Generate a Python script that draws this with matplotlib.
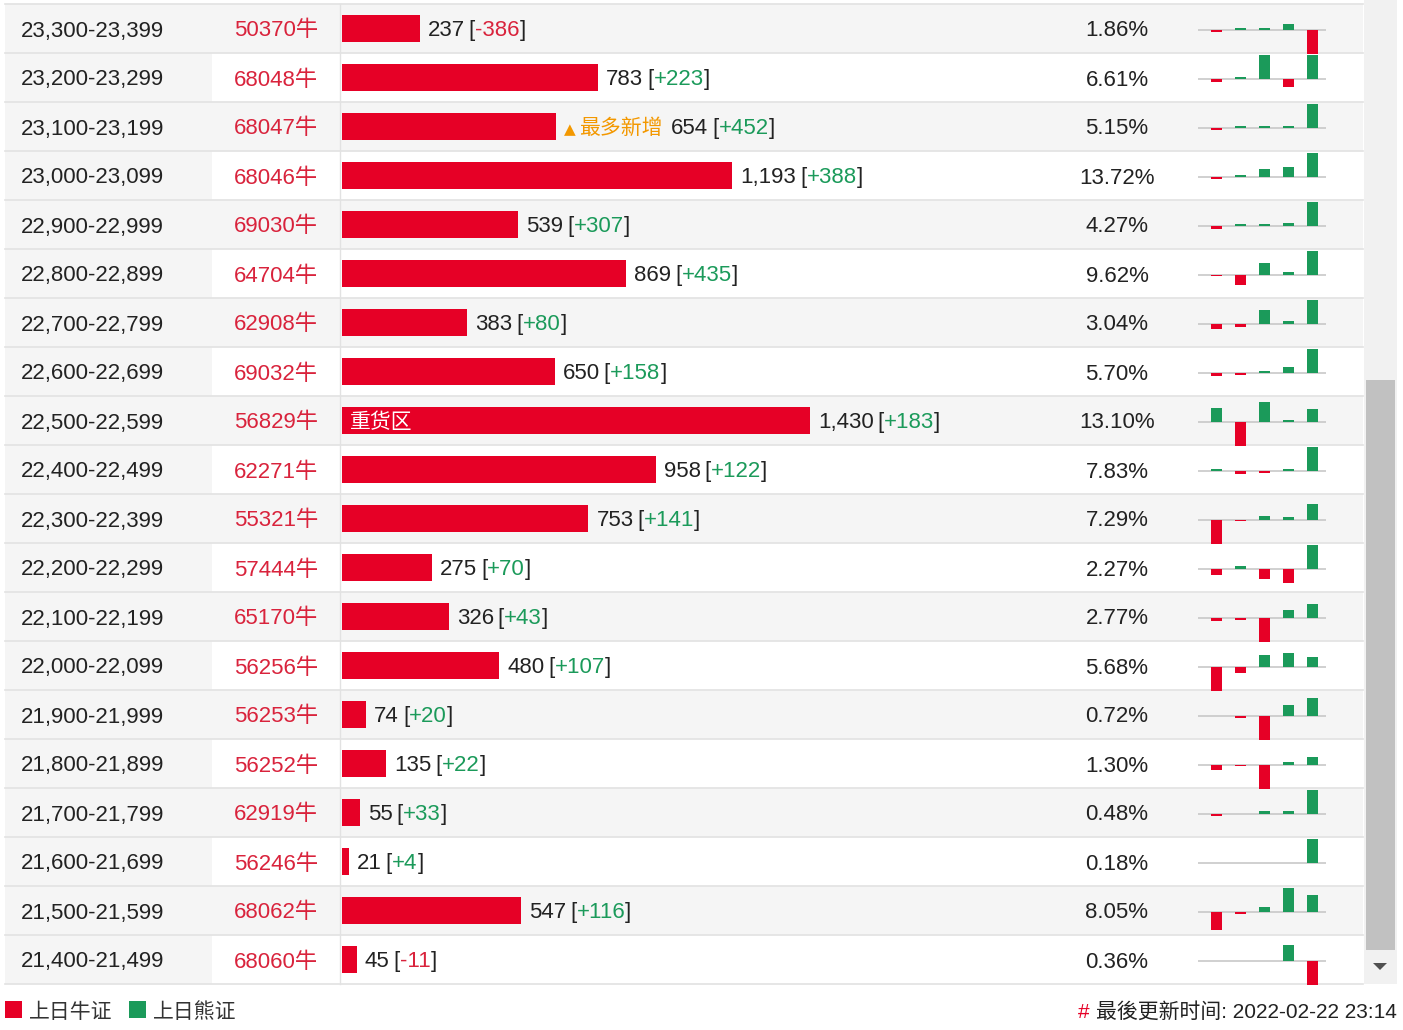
import matplotlib
matplotlib.use("Agg")
import matplotlib.pyplot as plt
from matplotlib.patches import Rectangle, Polygon

plt.rcParams['font.family'] = ['Liberation Sans', 'Noto Sans CJK SC', 'DejaVu Sans']

# ---- data ----
ranges = ["23,300-23,399", "23,200-23,299", "23,100-23,199", "23,000-23,099",
          "22,900-22,999", "22,800-22,899", "22,700-22,799", "22,600-22,699",
          "22,500-22,599", "22,400-22,499", "22,300-22,399", "22,200-22,299",
          "22,100-22,199", "22,000-22,099", "21,900-21,999", "21,800-21,899",
          "21,700-21,799", "21,600-21,699", "21,500-21,599", "21,400-21,499"]
codes = ["50370", "68048", "68047", "68046", "69030", "64704", "62908", "69032",
         "56829", "62271", "55321", "57444", "65170", "56256", "56253", "56252",
         "62919", "56246", "68062", "68060"]
counts = [237, 783, 654, 1193, 539, 869, 383, 650, 1430, 958,
          753, 275, 326, 480, 74, 135, 55, 21, 547, 45]
changes = [-386, 223, 452, 388, 307, 435, 80, 158, 183, 122,
           141, 70, 43, 107, 20, 22, 33, 4, 116, -11]
pcts = ["1.86%", "6.61%", "5.15%", "13.72%", "4.27%", "9.62%", "3.04%", "5.70%",
        "13.10%", "7.83%", "7.29%", "2.27%", "2.77%", "5.68%", "0.72%", "1.30%",
        "0.48%", "0.18%", "8.05%", "0.36%"]
# last five daily changes per row (sparklines)
spark = [
    [-48, 32, 32, 85, -386],
    [-31, 18, 222, -83, 223],
    [-43, 37, 37, 37, 452],
    [-38, 32, 128, 160, 388],
    [-42, 25, 25, 38, 307],
    [-36, -197, 203, 42, 435],
    [-18, -10, 46, 7, 80],
    [-22, -15, 13, 39, 158],
    [197, -343, 282, 28, 183],
    [10, -17, -12, 10, 122],
    [-224, -18, 31, 21, 141],
    [-18, 6, -30, -41, 70],
    [-10, -7, -75, 25, 43],
    [-260, -68, 128, 150, 107],
    [0, -3, -27, 12, 20],
    [-18, -6, -73, 7, 22],
    [-3, 0, 4, 4, 33],
    [0, 0, 0, 0, 4],
    [-125, -16, 34, 166, 116],
    [0, 0, 0, 7, -11],
]
most_new_row = 2
legend_labels = ["上日牛证", "上日熊证"]
footer = "最後更新时间: 2022-02-22 23:14"

RED = '#e60026'
RED_TXT = '#d9233c'
GREEN = '#1b9a5a'
ORANGE = '#f39800'
TXT = '#222222'
GRAY_BG = '#f5f5f5'
LINE = '#e2e2e2'

W, H = 1403, 1030
fig = plt.figure(figsize=(W / 100, H / 100), dpi=100)
fig.patch.set_facecolor('white')

bg = fig.add_axes([0, 0, 1, 1])
bg.set_xlim(0, W)
bg.set_ylim(H, 0)
bg.set_axis_off()

n = len(ranges)
ROW_H = 49
TOP = 4
TABLE_L, TABLE_R = 5, 1363


def center(i):
    return TOP + ROW_H * i + ROW_H / 2


# row backgrounds and separators
for i in range(n):
    top = TOP + ROW_H * i
    if i % 2 == 0:
        bg.add_patch(Rectangle((TABLE_L, top), TABLE_R - TABLE_L, ROW_H, color=GRAY_BG, lw=0))
    else:
        bg.add_patch(Rectangle((TABLE_L, top), 207, ROW_H, color=GRAY_BG, lw=0))
for k in range(n + 1):
    y = TOP + ROW_H * k
    bg.plot([TABLE_L, TABLE_R], [y, y], color=LINE, lw=1.2)
bg.plot([340, 340], [TOP, TOP + ROW_H * n], color=LINE, lw=1)

# scrollbar
bg.add_patch(Rectangle((1364, 0), 33, 984, color='#f1f1f1', lw=0))
bg.add_patch(Rectangle((1366, 380), 29, 570, color='#c1c1c1', lw=0))
bg.add_patch(Polygon([[1373, 963], [1387, 963], [1380, 970]], closed=True, color='#505050', lw=0))

# text columns
for i in range(n):
    base = center(i) + 8
    bg.text(21, base, ranges[i], fontsize=16, color=TXT, va='baseline', ha='left')
    bg.text(276, base, codes[i] + "牛", fontsize=16, color=RED_TXT, va='baseline', ha='center')
    bg.text(1117, base, pcts[i], fontsize=16, color=TXT, va='baseline', ha='center')

# main bars
ppu = 468 / 1430
bar_l, bar_w = 342, 718
axb = fig.add_axes([bar_l / W, (H - (TOP + ROW_H * n)) / H, bar_w / W, ROW_H * n / H])
axb.set_xlim(0, bar_w / ppu)
axb.set_ylim(n - 0.5, -0.5)
axb.set_axis_off()
axb.barh(range(n), counts, height=0.54, color=RED, left=0)


def chain(ax, pieces, x0, y):
    prev = None
    for s, color, gap, kw in pieces:
        if prev is None:
            t = ax.annotate(s, xy=(x0, y), xycoords='data', xytext=(gap, 0),
                            textcoords='offset pixels', color=color,
                            va='baseline', ha='left', **kw)
        else:
            t = ax.annotate(s, xy=(1, y), xycoords=(prev, 'data'), xytext=(gap, 0),
                            textcoords='offset pixels', color=color,
                            va='baseline', ha='left', **kw)
        prev = t
    return prev


imax = counts.index(max(counts))
for i in range(n):
    y = i + 8 / ROW_H
    chg = changes[i]
    chg_s = ("+%d" % chg) if chg > 0 else ("%d" % chg)
    pieces = []
    if i == most_new_row:
        pieces.append(("▲", ORANGE, 8, dict(fontsize=11, family=['DejaVu Sans'])))
        pieces.append(("最多新增", ORANGE, 3, dict(fontsize=15)))
        pieces.append(("{:,}".format(counts[i]), TXT, 9, dict(fontsize=16)))
    else:
        pieces.append(("{:,}".format(counts[i]), TXT, 8, dict(fontsize=16)))
    pieces.append(("[", TXT, 4, dict(fontsize=16)))
    pieces.append((chg_s, GREEN if chg > 0 else RED_TXT, 0, dict(fontsize=16)))
    pieces.append(("]", TXT, 0, dict(fontsize=16)))
    chain(axb, pieces, counts[i], y)
    if i == imax:
        axb.annotate("重货区", xy=(0, y), xytext=(8, 0), textcoords='offset pixels',
                     color='white', fontsize=15, va='baseline', ha='left')

# sparklines
sp_l, sp_w = 1198, 128
for i in range(n):
    vals = spark[i]
    m = max(abs(v) for v in vals)
    base = center(i) + 1
    ax = fig.add_axes([sp_l / W, (H - (base + 24)) / H, sp_w / W, 48 / H])
    ax.set_axis_off()
    ax.set_xlim(-0.77, 4.56)
    ax.set_ylim(-m, m)
    ax.axhline(0, color='#c8c8c8', lw=1.2, zorder=0)
    ax.bar(range(5), vals, width=0.47, color=[GREEN if v > 0 else RED for v in vals], zorder=2)

# legend
for k, (lab, col) in enumerate(zip(legend_labels, [RED, GREEN])):
    x = 5 + 124 * k
    bg.add_patch(Rectangle((x, 1001), 17, 17, color=col, lw=0))
    bg.text(x + 24, 1018, lab, fontsize=15, color='#333333', va='baseline', ha='left')

# footer
ft = bg.text(1397, 1018, footer, fontsize=15, color=TXT, va='baseline', ha='right')
bg.annotate("#", xy=(0, 1018), xycoords=(ft, 'data'), xytext=(-7, 0),
            textcoords='offset pixels', color=RED, fontsize=15, va='baseline', ha='right')

fig.savefig("out.png", dpi=100, facecolor='white')
